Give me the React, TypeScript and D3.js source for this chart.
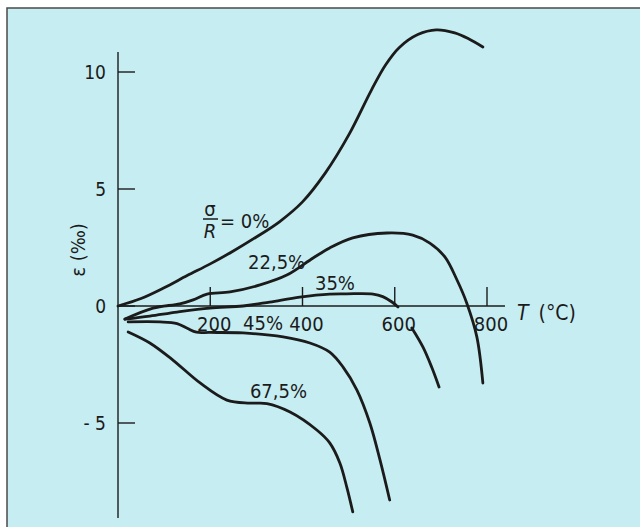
import React from "react";
import * as d3 from "d3";

// strain curves: [T (°C), eps (‰)], null = break in the line
const curve0: [number, number][] = [
  [0, 0], [50, 0.32], [100, 0.78], [150, 1.3], [200, 1.8], [250, 2.35], [300, 2.95],
  [350, 3.6], [400, 4.45], [450, 5.7], [500, 7.3], [550, 9.25], [580, 10.3], [610, 11.05],
  [650, 11.6], [690, 11.8], [730, 11.67], [760, 11.42], [791, 11.07],
];
const curve225: [number, number][] = [
  [15, -0.56], [76, -0.09], [134, 0.09], [163, 0.26], [193, 0.51], [243, 0.6], [308, 0.9],
  [366, 1.32], [423, 2.05], [459, 2.48], [509, 2.91], [583, 3.12], [639, 3.03], [676, 2.69],
  [709, 2.09], [735, 1.11], [756, 0.13], [778, -1.32], [791, -3.29],
];
const curve35: ([number, number] | null)[] = [
  [15, -0.56], [69, -0.43], [128, -0.26], [199, -0.09], [271, 0], [329, 0.17], [394, 0.38],
  [459, 0.51], [496, 0.52], [553, 0.51], [574, 0.4], [594, 0.17], [607, -0.04],
  null,
  [637, -0.94], [661, -1.75], [680, -2.61], [696, -3.46],
];
const curve45: [number, number][] = [
  [22, -0.68], [91, -0.68], [128, -0.75], [150, -0.95], [170, -1.12], [199, -1.13],
  [271, -1.15], [358, -1.32], [416, -1.58], [459, -1.97], [488, -2.61], [518, -3.59],
  [546, -5.0], [568, -6.58], [589, -8.29],
];
const curve675: [number, number][] = [
  [22, -1.11], [69, -1.58], [119, -2.31], [178, -3.29], [236, -4.02], [286, -4.15],
  [323, -4.17], [373, -4.53], [431, -5.3], [459, -5.85], [481, -6.71], [496, -7.74], [509, -8.8],
];

const xTicks = [200, 400, 600, 800];
const yTicks = [10, 5, 0, -5];
const yTickLabels = ["10", "5", "0", "- 5"];

// curve labels: text, T, eps (baseline-left anchor)
const curveLabels: [string, number, number][] = [
  ["22,5%", 282, 1.58],
  ["35%", 427, 0.68],
  ["45%", 271, -1.02],
  ["67,5%", 286, -3.93],
];

const W = 640;
const H = 527;
const bg = "#c6edf2";
const ink = "#1b1b1b";
const font = "'Liberation Sans Narrow', 'DejaVu Sans Condensed', 'Liberation Sans', sans-serif";

export default function App() {
  const x = d3.scaleLinear().domain([0, 800]).range([118, 487]);
  const y = d3.scaleLinear().domain([-5, 10]).range([423, 72]);

  const line = d3
    .line<[number, number] | null>()
    .defined((d) => d !== null)
    .x((d) => x(d![0]))
    .y((d) => y(d![1]))
    .curve(d3.curveCatmullRom.alpha(0.5));

  const curves = [curve0, curve225, curve35, curve45, curve675];
  const y0 = y(0);

  return (
    <svg width={W} height={H} style={{ position: "absolute", left: 0, top: 0 }}>
      <rect x={0} y={0} width={W} height={H} fill="#fff" />
      <rect x={7} y={8} width={W} height={H} fill={bg} stroke="#4a4a4a" strokeWidth={1.5} />

      {/* axes */}
      <g stroke={ink} strokeWidth={1.4} fill="none">
        <line x1={x(0)} x2={x(0)} y1={y(10.85)} y2={y(-9.06)} />
        <line x1={x(0)} x2={x(839)} y1={y0} y2={y0} />
        {yTicks.map((t) => (
          <line key={"yt" + t} x1={x(0)} x2={x(0) + 17} y1={y(t)} y2={y(t)} />
        ))}
        {xTicks.map((t) => (
          <line key={"xt" + t} x1={x(t)} x2={x(t)} y1={y0} y2={y0 - 19} />
        ))}
      </g>

      <g fontFamily={font} fill={ink}>
        {yTicks.map((t, i) => (
          <text key={"yl" + t} x={106} y={y(t)} dy="0.35em" textAnchor="end" fontSize={19}>
            {yTickLabels[i]}
          </text>
        ))}
        {xTicks.map((t) => (
          <text key={"xl" + t} x={x(t) + 4} y={y0 + 25} textAnchor="middle" fontSize={20}>
            {t}
          </text>
        ))}
        <text x={517} y={y0 + 14} fontSize={21}>
          <tspan fontStyle="italic">T</tspan>
          <tspan dx={10}>(°C)</tspan>
        </text>
        <text transform={`translate(85, 250) rotate(-90)`} textAnchor="middle" fontSize={20}>
          ε (‰)
        </text>

        {curveLabels.map(([s, t, e]) => (
          <text key={s} x={x(t)} y={y(e)} fontSize={20}>
            {s}
          </text>
        ))}

        {/* sigma / R = 0% */}
        <text x={210} y={216} textAnchor="middle" fontSize={20}>σ</text>
        <line x1={203} x2={218} y1={219} y2={219} stroke={ink} strokeWidth={1.5} />
        <text x={210} y={238} textAnchor="middle" fontSize={20} fontStyle="italic">R</text>
        <text x={220} y={228} fontSize={20}>= 0%</text>
      </g>

      <g fill="none" stroke={ink} strokeWidth={2.8} strokeLinecap="round">
        {curves.map((c, i) => (
          <path key={i} d={line(c as ([number, number] | null)[]) || ""} />
        ))}
      </g>
    </svg>
  );
}
